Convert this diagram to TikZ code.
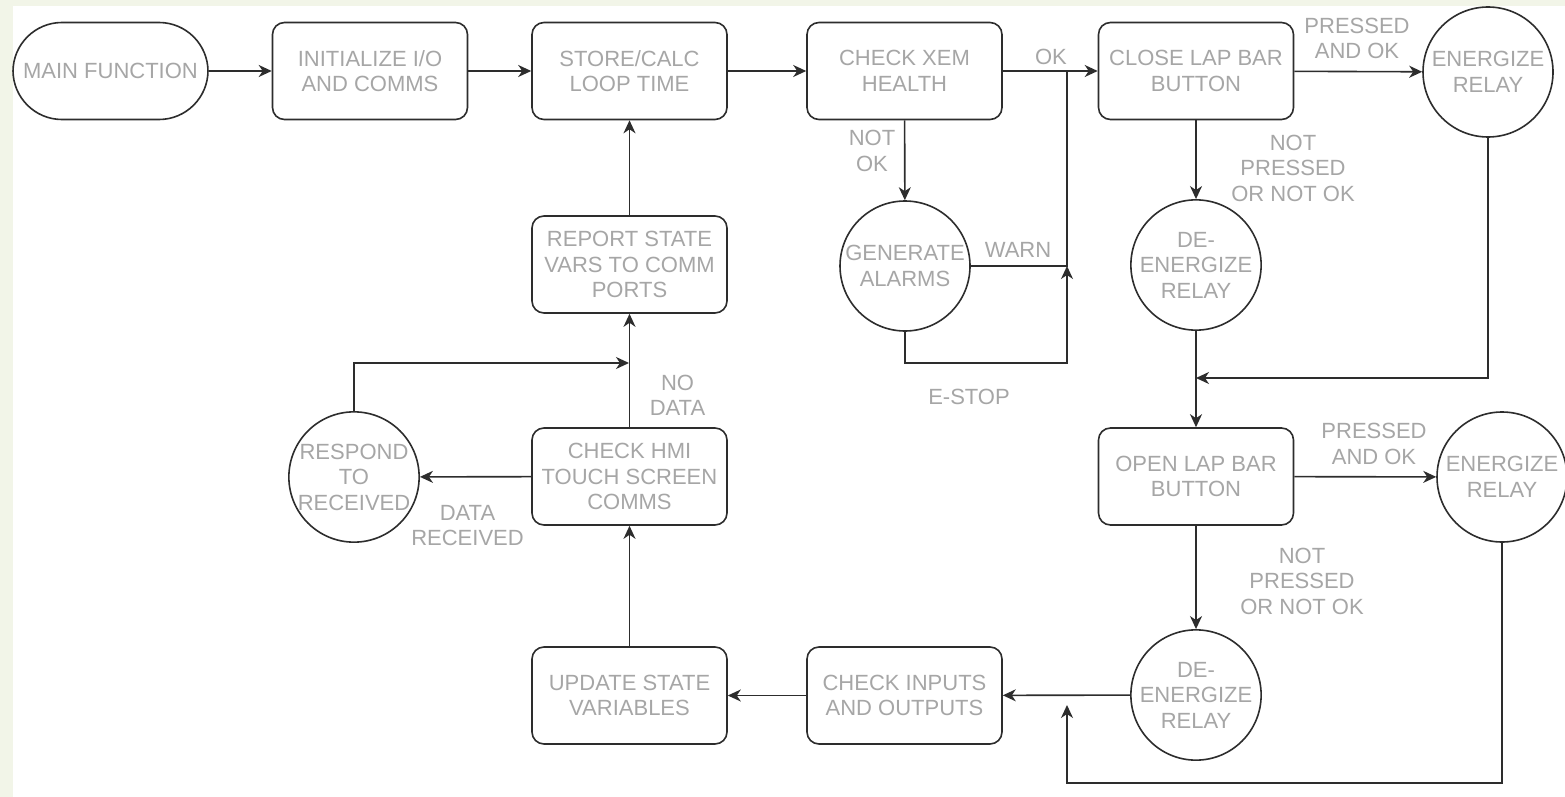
\documentclass[tikz,border=0pt]{standalone}
\usepackage{fontspec}
\setmainfont{Liberation Sans}
\usetikzlibrary{arrows.meta}
\definecolor{linegray}{RGB}{45,45,45}
\definecolor{txtgray}{RGB}{166,166,166}
\definecolor{paper}{RGB}{242,245,232}

\begin{document}
\begin{tikzpicture}[x=1pt, y=-1pt,
  every node/.style={font=\fontsize{22}{25.5}\selectfont, text=txtgray, align=center},
  box/.style={draw=linegray, line width=1.6pt, rounded corners=12pt, minimum width=195pt, minimum height=97pt, inner sep=0pt},
  bubble/.style={draw=linegray, line width=1.6pt, circle, minimum size=130pt, inner sep=0pt},
  flow/.style={draw=linegray, line width=1.6pt, -{Stealth[length=13pt, width=12pt, inset=4pt]}},
  wire/.style={draw=linegray, line width=1.6pt}]
% Canvas
\fill[paper] (0,0) rectangle (1565,797);
\fill[white] (13,6) rectangle (1565,797);
\useasboundingbox (0,0) rectangle (1565,797);

% Top row
\node[box, rounded corners=49pt] (main) at (110.5,71) {MAIN FUNCTION};
\node[box] (init) at (370,71) {INITIALIZE I/O\\AND COMMS};
\node[box] (store) at (629.5,71) {STORE/CALC\\LOOP TIME};
\node[box] (xem) at (904.5,71) {CHECK XEM\\HEALTH};
\node[box] (close) at (1196,71) {CLOSE LAP BAR\\BUTTON};
\node[bubble] (ener1) at (1488,72) {ENERGIZE\\RELAY};

% Alarm and close branch
\node[bubble] (alarm) at (905,266) {GENERATE\\ALARMS};
\node[bubble] (deen1) at (1196,265) {DE-\\ENERGIZE\\RELAY};

% Open lap bar branch
\node[box] (open) at (1196,476.5) {OPEN LAP BAR\\BUTTON};
\node[bubble] (ener2) at (1502,477) {ENERGIZE\\RELAY};
\node[bubble] (deen2) at (1196,695) {DE-\\ENERGIZE\\RELAY};

% Bottom row and left column
\node[box] (inout) at (904.5,695.5) {CHECK INPUTS\\AND OUTPUTS};
\node[box] (update) at (629.5,695.5) {UPDATE STATE\\VARIABLES};
\node[box] (hmi) at (629.5,476.5) {CHECK HMI\\TOUCH SCREEN\\COMMS};
\node[box] (report) at (629.5,264.5) {REPORT STATE\\VARS TO COMM\\PORTS};
\node[bubble] (respond) at (354,477) {RESPOND\\TO\\RECEIVED};

% Junction points
\coordinate (okj) at (1067,71);
\coordinate (warnj) at (1067,266);
\coordinate (estop) at (1067,363);
\coordinate (relj1) at (1196,378);
\coordinate (bret) at (1067,783);
\coordinate (relj2) at (1067,705);
\coordinate (dataj) at (629,363);

% Main loop
\draw[flow] (main) -- (init);
\draw[flow] (init) -- (store);
\draw[flow] (store) -- (xem);
\draw[flow] (xem) -- (close);
\node (okl) at (1051,57) {OK};

% Health check
\draw[flow] (xem) -- (alarm);
\node (notok) at (872,151) {NOT\\OK};
\draw[wire] (alarm.east) -- (warnj) -- (okj);
\node (warnl) at (1018,250) {WARN};
\draw[flow] (alarm.south) |- (estop) -- (warnj);
\node (estopl) at (969,397) {E-STOP};

% Close lap bar
\draw[flow] (close) -- (ener1);
\node (pressa) at (1357,38.5) {PRESSED\\AND OK};
\draw[flow] (close) -- (deen1);
\node (notpa) at (1293,168) {NOT\\PRESSED\\OR NOT OK};
\draw[flow] (deen1) -- (open);
\draw[flow] (ener1.south) |- (relj1);

% Open lap bar
\draw[flow] (open) -- (ener2);
\node (pressb) at (1374,444) {PRESSED\\AND OK};
\draw[flow] (open) -- (deen2);
\node (notpb) at (1302,581) {NOT\\PRESSED\\OR NOT OK};
\draw[flow] (deen2) -- (inout);
\draw[flow] (ener2.south) |- (bret) -- (relj2);

% Back up the left side
\draw[flow] (inout) -- (update);
\draw[flow] (update) -- (hmi);
\draw[flow] (hmi) -- (report);
\node (nodata) at (677.5,395.5) {NO\\DATA};
\draw[flow] (hmi) -- (respond);
\node (datarx) at (467.5,525.5) {DATA\\RECEIVED};
\draw[flow] (respond.north) |- (dataj);
\draw[flow] (report) -- (store);
\end{tikzpicture}
\end{document}
